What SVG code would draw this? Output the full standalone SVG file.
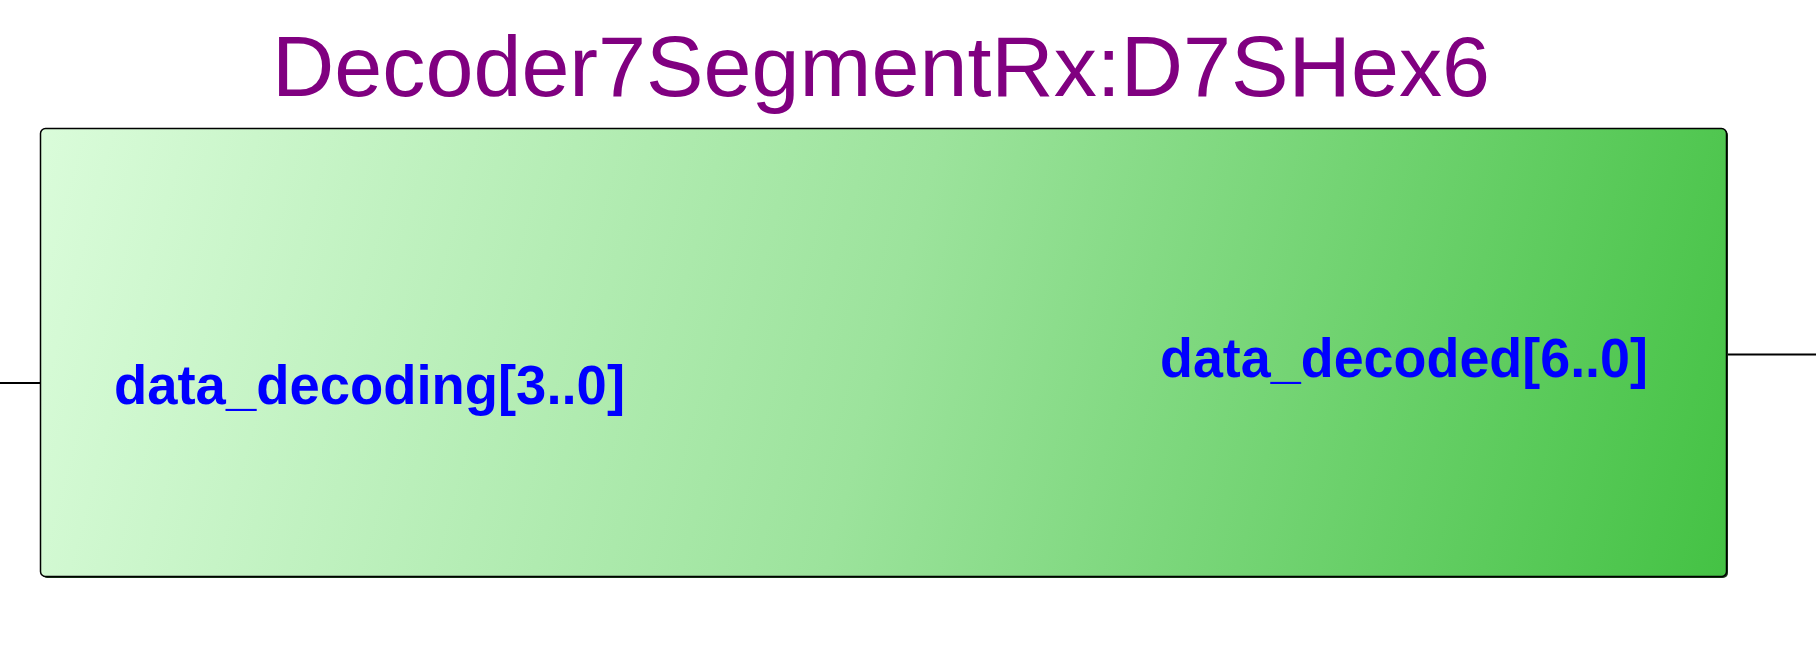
<svg xmlns="http://www.w3.org/2000/svg" width="1816" height="657" viewBox="0 0 1816 657">
  <style>
    .title { font-family: "Liberation Sans", Arial, sans-serif; font-size: 85px; fill: #800080; }
    .port { font-family: "Liberation Sans", Arial, sans-serif; font-size: 55px; font-weight: bold; fill: #0000ff; }
    .wire { stroke: #000000; stroke-width: 2; fill: none; }
  </style>
  <defs>
    <!-- light-to-dark green wash running along the block's diagonal -->
    <linearGradient id="blockFill" gradientUnits="userSpaceOnUse" x1="40" y1="128" x2="1727" y2="577">
      <stop offset="0" stop-color="#dafcda"/>
      <stop offset="0.5" stop-color="#9ce39c"/>
      <stop offset="1" stop-color="#44c244"/>
    </linearGradient>
  </defs>

  <!-- instance name -->
  <text class="title" x="272" y="96" textLength="1218" lengthAdjust="spacingAndGlyphs">Decoder7SegmentRx:D7SHex6</text>

  <!-- port wires -->
  <g id="connectors">
    <line class="wire" x1="0" y1="383" x2="40.5" y2="383"/>
    <line class="wire" x1="1727" y1="354.5" x2="1816" y2="354.5"/>
  </g>

  <!-- block symbol -->
  <g id="D7SHex6">
    <rect x="42" y="130" width="1686" height="448" rx="5" fill="#1a3a1a"/>
    <rect x="40.5" y="128.5" width="1686" height="448" rx="5" fill="url(#blockFill)" stroke="#000000" stroke-width="1.5"/>
    <text class="port" x="114" y="404" textLength="511" lengthAdjust="spacingAndGlyphs">data_decoding[3..0]</text>
    <text class="port" x="1160" y="377" textLength="488" lengthAdjust="spacingAndGlyphs">data_decoded[6..0]</text>
  </g>
</svg>
